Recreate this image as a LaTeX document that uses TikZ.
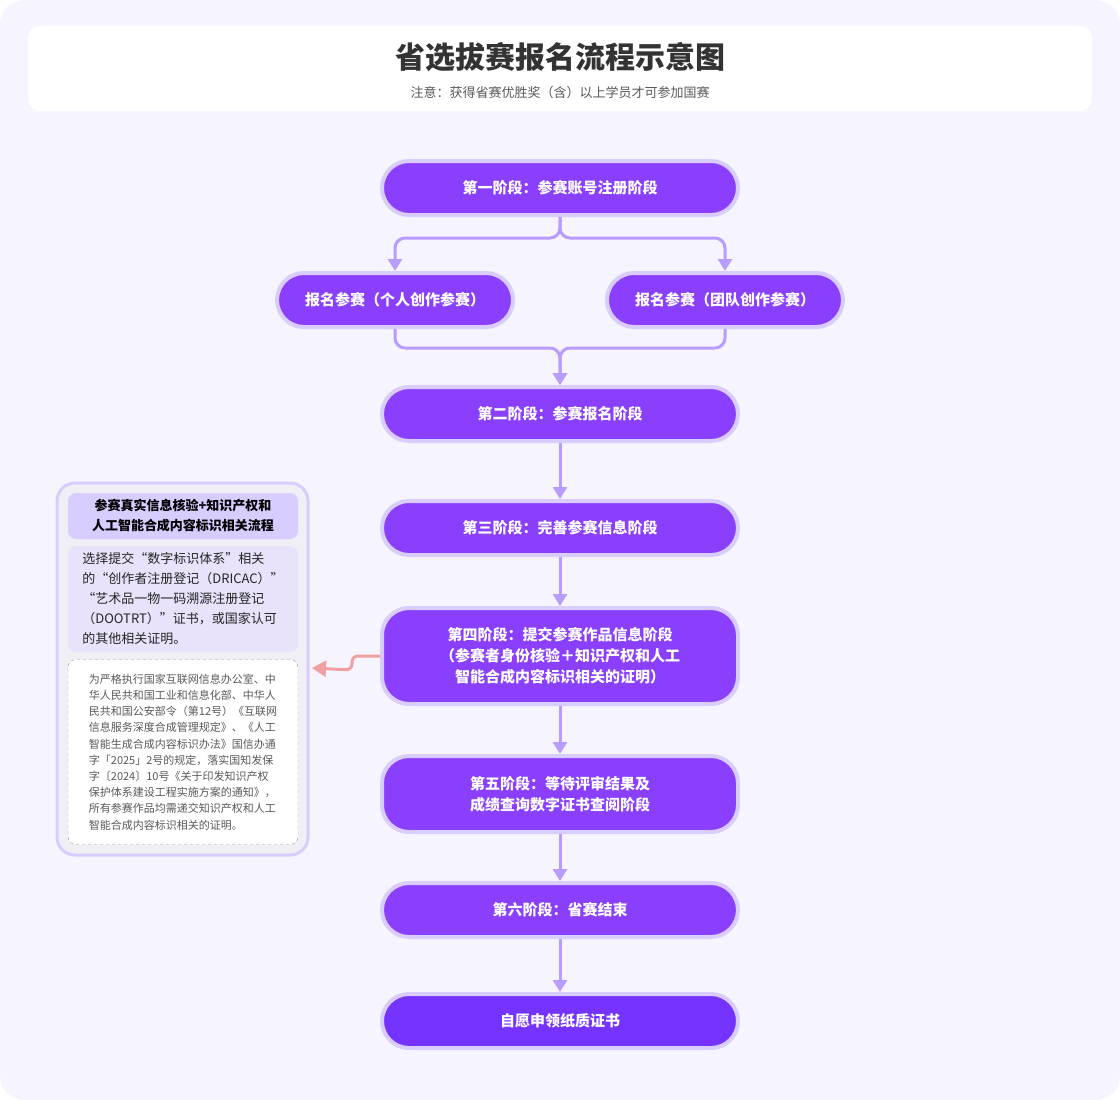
\documentclass[tikz,border=0pt]{standalone}
\usepackage{fontspec}
\setmainfont{Noto Sans CJK SC}
\usetikzlibrary{arrows.meta,positioning}
\definecolor{bgc}{HTML}{F6F4FE}
\definecolor{stagec}{HTML}{8A3FFC}
\definecolor{finalc}{HTML}{7433FF}
\definecolor{rimc}{HTML}{D9CCFF}
\definecolor{linkc}{HTML}{B89CFF}
\definecolor{panelc}{HTML}{F1EFF6}
\definecolor{notec}{HTML}{E8E2FA}
\definecolor{redc}{HTML}{F0A0A0}

\begin{document}
\begin{tikzpicture}[x=1pt,y=-1pt,
  stage box/.style={rectangle,rounded corners=27pt,draw=rimc,line width=4pt,
    fill=stagec,text=white,font=\fontsize{15}{21}\selectfont\bfseries,
    minimum height=54pt,minimum width=356pt,align=center,inner sep=0pt},
  link/.style={draw=linkc,line width=3pt,rounded corners=10pt,
    -{Triangle[width=14pt,length=12pt]}},
  side box/.style={rectangle,rounded corners=8pt,minimum width=230pt,inner sep=0pt}]

  % background and title
  \fill[bgc,rounded corners=24pt] (0,0) rectangle (1120,1100);
  \fill[white,rounded corners=12pt] (28,26) rectangle (1092,111);
  \node[font=\fontsize{30}{36}\selectfont\bfseries,text=black!80] (Title) at (560,57) {省选拔赛报名流程示意图};
  \node[font=\fontsize{13}{16}\selectfont,text=black!65] (Note) at (560,93) {注意：获得省赛优胜奖（含）以上学员才可参加国赛};

  % stages
  \node[stage box] (One) at (560,188) {第一阶段：参赛账号注册阶段};
  \node[stage box,minimum width=236pt] (Solo) at (395,300) {报名参赛（个人创作参赛）};
  \node[stage box,minimum width=236pt] (Team) at (725,300) {报名参赛（团队创作参赛）};
  \node[stage box] (Two) at (560,414) {第二阶段：参赛报名阶段};
  \node[stage box] (Three) at (560,528) {第三阶段：完善参赛信息阶段};
  \node[stage box,minimum height=96pt] (Four) at (560,656) {第四阶段：提交参赛作品信息阶段\\（参赛者身份核验＋知识产权和人工\\智能合成内容标识相关的证明）};
  \node[stage box,minimum height=76pt] (Five) at (560,794) {第五阶段：等待评审结果及\\成绩查询数字证书查阅阶段};
  \node[stage box] (Six) at (560,910) {第六阶段：省赛结束};
  \node[stage box,fill=finalc] (Final) at (560,1021) {自愿申领纸质证书};

  % side panel
  \fill[panelc,draw=rimc,line width=3pt,rounded corners=18pt] (57,483) rectangle (308,855);
  \node[side box,fill=rimc,minimum height=46pt,font=\fontsize{13}{20}\selectfont\bfseries,align=center] (Check) at (183,516) {参赛真实信息核验+知识产权和\\人工智能合成内容标识相关流程};
  \node[side box,fill=notec,minimum height=106pt,font=\fontsize{13}{20}\selectfont,align=left,text=black!85] (Pick) at (183,599)
    {选择提交“数字标识体系”相关\\的“创作者注册登记（DRICAC）”\\“艺术品一物一码溯源注册登记\\（DOOTRT）”证书，或国家认可\\的其他相关证明。};
  \node[side box,fill=white,draw=black!40,dashed,minimum height=185pt,font=\fontsize{11}{16.2}\selectfont,align=left,text=black!65] (Rule) at (183,752)
    {为严格执行国家互联网信息办公室、中\\华人民共和国工业和信息化部、中华人\\民共和国公安部令（第12号）《互联网\\信息服务深度合成管理规定》、《人工\\智能生成合成内容标识办法》国信办通\\字「2025」2号的规定，落实国知发保\\字〔2024〕10号《关于印发知识产权\\保护体系建设工程实施方案的通知》，\\所有参赛作品均需递交知识产权和人工\\智能合成内容标识相关的证明。};
  \coordinate (PanelIn) at (312,668);

  % connectors
  \draw[link] (One.south) -- ++(0,21) -| (Solo.north);
  \draw[link] (One.south) -- ++(0,21) -| (Team.north);
  \draw[link] (Solo.south) |- (560,348) -- (Two.north);
  \draw[link] (Team.south) |- (560,348) -- (Two.north);
  \draw[link] (Two) -- (Three);
  \draw[link] (Three) -- (Four);
  \draw[link] (Four) -- (Five);
  \draw[link] (Five) -- (Six);
  \draw[link] (Six) -- (Final);
  \draw[draw=redc,line width=3pt,rounded corners=6pt,-{Triangle[width=16pt,length=14pt]}]
    (Four.west) -- ++(-28,0) -- ++(0,14) -- (PanelIn);
\end{tikzpicture}
\end{document}
